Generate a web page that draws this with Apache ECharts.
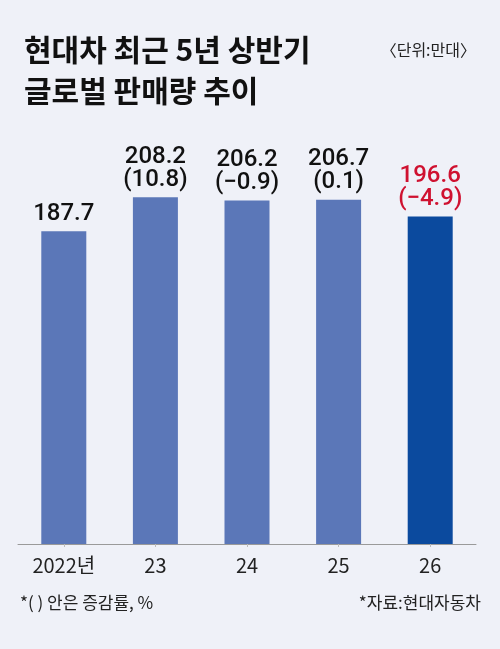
<!DOCTYPE html>
<html><head><meta charset="utf-8">
<script src="https://cdn.jsdelivr.net/npm/echarts@6/dist/echarts.min.js"></script>
<style>html,body{margin:0;padding:0;background:#eff1f8;}#c{width:500px;height:649px;}</style>
</head><body><div id="c"></div>
<script>
const categories = ['2022년', '23', '24', '25', '26'];
const sales = [187.7, 208.2, 206.2, 206.7, 196.6];
const changes = [null, '10.8', '−0.9', '0.1', '−4.9'];

const FONT = '"Noto Sans CJK KR", "Noto Sans", sans-serif';
const chart = echarts.init(document.getElementById('c'));
chart.setOption({
  backgroundColor: '#eff1f8',
  animation: false,
  title: {
    text: '현대차 최근 5년 상반기\n글로벌 판매량 추이',
    left: 19, top: 24,
    textStyle: { fontFamily: FONT, fontSize: 30, fontWeight: 'bold', color: '#111', lineHeight: 41 }
  },
  graphic: [
    { type: 'text', right: 24, top: 42, style: { text: '〈단위:만대〉', font: '16px ' + FONT, fill: '#222' } },
    { type: 'text', left: 20, top: 594, style: { text: '*( ) 안은 증감률, %', font: '17px ' + FONT, fill: '#222' } },
    { type: 'text', right: 19, top: 594, style: { text: '*자료:현대자동차', font: '17px ' + FONT, fill: '#222' } }
  ],
  grid: { left: 18, right: 24, top: 127.5, bottom: 105, containLabel: false },
  xAxis: {
    type: 'category', data: categories,
    axisLine: { lineStyle: { color: '#9a9a9a', width: 1 } },
    axisTick: { show: true, alignWithLabel: true, length: 3, lineStyle: { color: '#bbb' } },
    axisLabel: { color: '#222', fontFamily: FONT, fontSize: 20, margin: 11 }
  },
  yAxis: { type: 'value', min: 0, max: 250, show: false, splitLine: { show: false } },
  series: [{
    type: 'bar', barWidth: 45,
    data: sales.map((v, i) => ({
      value: v,
      itemStyle: { color: i === sales.length - 1 ? '#0b4a9e' : '#5b77b8' },
      label: { color: i === sales.length - 1 ? '#cf1130' : '#111' }
    })),
    label: {
      show: true, position: 'top', distance: 6,
      fontFamily: 'Roboto, sans-serif', fontSize: 24, fontWeight: 500, lineHeight: 23,
      formatter: p => changes[p.dataIndex] ? p.value.toFixed(1) + '\n(' + changes[p.dataIndex] + ')' : p.value.toFixed(1)
    }
  }]
});
</script></body></html>
